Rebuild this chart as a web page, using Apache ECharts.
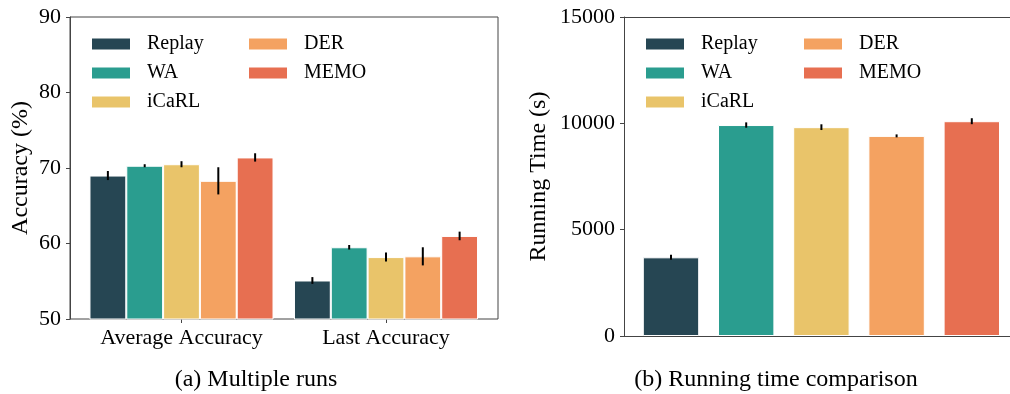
<!DOCTYPE html>
<html>
<head>
<meta charset="utf-8">
<script src="https://cdn.jsdelivr.net/npm/echarts@6/dist/echarts.min.js"></script>
<style>
html,body{margin:0;padding:0;background:#fff;}
#chart{width:1010px;height:394px;}
</style>
</head>
<body>
<div id="chart"></div>
<script>
// ---- data ----
const methods = ['Replay', 'WA', 'iCaRL', 'DER', 'MEMO'];
const accCategories = ['Average Accuracy', 'Last Accuracy'];
// accuracy per method: [average, last]
const accReplay = [69.0, 55.1];
const accWA     = [70.3, 59.5];
const accICaRL  = [70.5, 58.2];
const accDER    = [68.3, 58.3];
const accMEMO   = [71.4, 61.0];
// std error bars
const errReplay = [0.6, 0.45];
const errWA     = [0.2, 0.3];
const errICaRL  = [0.4, 0.6];
const errDER    = [1.8, 1.2];
const errMEMO   = [0.55, 0.57];
// running time (s)
const timeValues = [3700, 9920, 9820, 9410, 10100];
const timeErrors = [120, 125, 135, 70, 140];
const accTicks = [50, 60, 70, 80, 90];
const timeTicks = [0, 5000, 10000, 15000];

// ---- style ----
const colors = ['#264653', '#2a9d8f', '#e9c46a', '#f4a261', '#e76f51'];
const FONT = 'Liberation Serif';
const SPINE = '#444';
const accVals = [accReplay, accWA, accICaRL, accDER, accMEMO];
const accErrs = [errReplay, errWA, errICaRL, errDER, errMEMO];
const BAR_FRAC = 0.18;

const chart = echarts.init(document.getElementById('chart'), null, {renderer: 'canvas'});

const series = [];
methods.forEach((m, i) => {
  series.push({
    name: m, type: 'bar', xAxisIndex: 1, yAxisIndex: 1,
    barWidth: (BAR_FRAC * 100) + '%', barGap: '0%',
    itemStyle: {color: colors[i], borderColor: '#fff', borderWidth: 1},
    data: accVals[i], animation: false
  });
});
methods.forEach((m, i) => {
  series.push({
    name: m, type: 'bar', xAxisIndex: 3, yAxisIndex: 3,
    barWidth: '75%', barGap: '-100%',
    itemStyle: {color: colors[i], borderColor: '#fff', borderWidth: 1},
    data: methods.map((_, j) => j === i ? timeValues[i] : '-'), animation: false
  });
});
// error bars - accuracy
const accErrData = [];
methods.forEach((m, i) => {
  accCategories.forEach((c, k) => accErrData.push([k, i, accVals[i][k], accErrs[i][k]]));
});
series.push({
  type: 'custom', xAxisIndex: 1, yAxisIndex: 1, z: 10, animation: false, silent: true,
  data: accErrData,
  renderItem: function (params, api) {
    const k = api.value(0), i = api.value(1), v = api.value(2), e = api.value(3);
    const band = api.size([1, 0])[0];
    const p1 = api.coord([k, v - e]);
    const p2 = api.coord([k, v + e]);
    const x = p1[0] + (i - 2) * BAR_FRAC * band;
    return {type: 'line', shape: {x1: x, y1: p1[1], x2: x, y2: p2[1]}, style: {stroke: '#000', lineWidth: 2}};
  }
});
series.push({
  type: 'custom', xAxisIndex: 3, yAxisIndex: 3, z: 10, animation: false, silent: true,
  data: timeValues.map((v, i) => [i, v, timeErrors[i]]),
  renderItem: function (params, api) {
    const k = api.value(0), v = api.value(1), e = api.value(2);
    const p1 = api.coord([k, v - e]);
    const p2 = api.coord([k, v + e]);
    return {type: 'line', shape: {x1: p1[0], y1: p1[1], x2: p1[0], y2: p2[1]}, style: {stroke: '#000', lineWidth: 2}};
  }
});

function legend(names, left) {
  return {
    data: names, orient: 'vertical', left: left, top: 34, padding: 0,
    itemWidth: 40, itemHeight: 13, itemGap: 9, icon: 'rect',
    selectedMode: false,
    textStyle: {fontFamily: FONT, fontSize: 20, color: '#000', lineHeight: 20, padding: [0, 0, 0, 11]}
  };
}

const lineOnly = (pos) => ({
  gridIndex: 2, type: 'value', min: 0, max: 1, position: pos,
  axisLine: {show: true, onZero: false, lineStyle: {color: SPINE}},
  axisTick: {show: false}, axisLabel: {show: false}, splitLine: {show: false}
});

const option = {
  backgroundColor: '#fff',
  animation: false,
  legend: [
    legend(['Replay', 'WA', 'iCaRL'], 90),
    legend(['DER', 'MEMO'], 247),
    legend(['Replay', 'WA', 'iCaRL'], 644),
    legend(['DER', 'MEMO'], 802)
  ],
  grid: [
    {left: 70, top: 17, width: 428, height: 302, show: true, borderColor: SPINE, borderWidth: 1, backgroundColor: 'transparent', outerBoundsMode: 'none', containLabel: false},
    {left: 79.25, top: 17, width: 409, height: 302, outerBoundsMode: 'none', containLabel: false},
    {left: 624, top: 17, width: 400, height: 319, outerBoundsMode: 'none', containLabel: false},
    {left: 633.4, top: 17, width: 376, height: 319, outerBoundsMode: 'none', containLabel: false}
  ],
  xAxis: [
    {gridIndex: 0, type: 'value', min: 0, max: 1, show: false},
    {gridIndex: 1, type: 'category', data: accCategories,
      axisLine: {show: false},
      axisTick: {show: true, alignWithLabel: true, length: 4, lineStyle: {color: SPINE}},
      axisLabel: {fontFamily: FONT, fontSize: 22, color: '#000', margin: 8, interval: 0, hideOverlap: false}},
    lineOnly('bottom'),
    {gridIndex: 3, type: 'category', data: methods, show: false},
    lineOnly('top')
  ],
  yAxis: [
    {gridIndex: 0, type: 'value', min: accTicks[0], max: accTicks[accTicks.length - 1], interval: 10,
      name: 'Accuracy (%)', nameLocation: 'middle', nameGap: 37,
      nameTextStyle: {fontFamily: FONT, fontSize: 24, color: '#000'},
      axisLine: {show: true, lineStyle: {color: SPINE}},
      axisTick: {show: true, length: 4, lineStyle: {color: SPINE}},
      axisLabel: {fontFamily: FONT, fontSize: 22, color: '#000', margin: 9, formatter: v => String(v)},
      splitLine: {show: false}},
    {gridIndex: 1, type: 'value', min: accTicks[0], max: accTicks[accTicks.length - 1], show: false, splitLine: {show: false}},
    {gridIndex: 2, type: 'value', min: timeTicks[0], max: timeTicks[timeTicks.length - 1], interval: 5000,
      name: 'Running Time (s)', nameLocation: 'middle', nameGap: 73,
      nameTextStyle: {fontFamily: FONT, fontSize: 24, color: '#000'},
      axisLine: {show: true, lineStyle: {color: SPINE}},
      axisTick: {show: true, length: 4, lineStyle: {color: SPINE}},
      axisLabel: {fontFamily: FONT, fontSize: 22, color: '#000', margin: 9, formatter: v => String(v)},
      splitLine: {show: false}},
    {gridIndex: 3, type: 'value', min: timeTicks[0], max: timeTicks[timeTicks.length - 1], show: false, splitLine: {show: false}}
  ],
  graphic: [
    {type: 'text', style: {text: '(a) Multiple runs', x: 256, y: 380, align: 'center', verticalAlign: 'middle', fontFamily: FONT, fontSize: 24, fill: '#000'}},
    {type: 'text', style: {text: '(b) Running time comparison', x: 776, y: 380, align: 'center', verticalAlign: 'middle', fontFamily: FONT, fontSize: 24, fill: '#000'}}
  ],
  series: series
};
chart.setOption(option);
</script>
</body>
</html>
